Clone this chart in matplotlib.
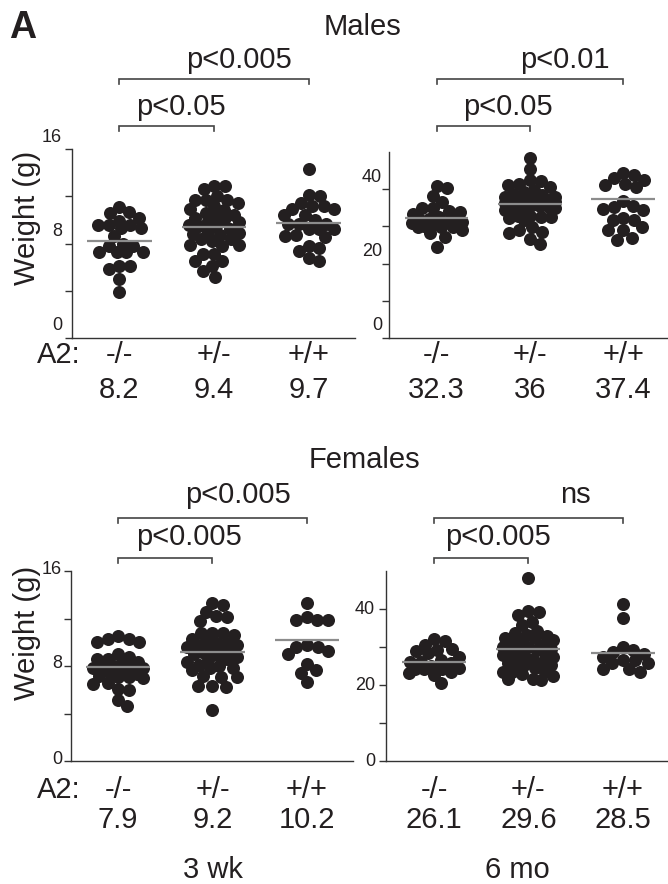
import numpy as np
import matplotlib
matplotlib.use("Agg")
import matplotlib.pyplot as plt
from matplotlib.transforms import blended_transform_factory, ScaledTranslation

plt.rcParams['font.family'] = ['Liberation Sans', 'DejaVu Sans']

# ---------------- data ----------------
genotypes = ["-/-", "+/-", "+/+"]

male_3wk_ko = [10.7, 11.1, 10.6, 10.2, 9.6, 9.6, 9.3, 9.3, 9.6, 9.9, 8.6, 8.0, 7.8, 7.8,
               7.3, 7.3, 7.3, 7.3, 6.1, 5.8, 6.1, 5.0, 3.9]
male_3wk_het = [12.9, 12.9, 12.6, 11.7, 11.7, 12.0, 11.7, 11.2, 10.9, 10.4, 10.3, 10.6, 10.2,
                9.9, 10.0, 9.5, 9.5, 8.7, 8.9, 9.0, 8.8, 8.4, 8.4, 7.9, 7.8, 7.9, 7.1, 7.1,
                6.5, 6.5, 6.1, 5.7, 5.2, 9.8, 9.2, 10.8, 8.2, 9.6, 11.4]
male_3wk_wt = [14.3, 12.0, 12.1, 11.15, 11.4, 11.15, 10.9, 10.9, 10.4, 10.4, 9.65, 9.65, 10.0,
               9.65, 9.2, 9.2, 9.2, 8.55, 8.6, 8.75, 7.4, 7.8, 7.6, 6.5, 6.8]

male_6mo_ko = [40.2, 40.9, 38.1, 34.9, 34.9, 33.8, 34.2, 33.2, 31.1, 30.8, 32.0, 32.5, 31.8,
               32.0, 30.8, 29.8, 30.2, 30.7, 29.8, 29.8, 28.2, 28.9, 27.1, 24.5, 36.5]
male_6mo_het = [48.5, 45.5, 42.1, 42.4, 41.2, 39.3, 38.7, 37.0, 36.5, 37.3, 36.5, 35.6, 35.3,
                35.0, 35.7, 35.1, 35.3, 32.5, 32.3, 32.8, 32.5, 31.8, 32.7, 29.8, 28.5, 29.1,
                28.2, 26.7, 25.4, 37.8, 38.0, 36.8, 36.2, 35.8, 37.5, 34.5, 40.5, 39.8, 38.5,
                36.9, 37.2, 41.5]
male_6mo_wt = [44.3, 43.8, 42.9, 42.4, 41.2, 40.7, 41.4, 36.9, 34.3, 35.3, 34.8, 35.6, 31.8,
               31.6, 32.3, 28.9, 29.8, 28.9, 26.4, 27.0]

female_3wk_ko = [10.24, 10.5, 10.24, 10.04, 8.27, 8.63, 8.55, 7.8, 7.9, 8.0, 7.8, 7.9, 7.09,
                 7.2, 7.35, 7.4, 7.1, 6.95, 6.1, 5.96, 6.52, 5.12, 4.6, 8.3, 7.6, 10.0, 6.6,
                 9.0, 8.8]
female_3wk_het = [13.1, 13.3, 12.57, 12.15, 12.2, 11.78, 10.74, 10.6, 10.74, 10.74, 10.3, 9.9,
                  9.8, 9.75, 9.6, 9.9, 8.07, 8.5, 8.8, 8.3, 7.99, 7.65, 7.8, 7.8, 7.09, 7.15,
                  7.09, 6.3, 6.24, 6.3, 4.33, 9.3, 9.0, 8.9, 9.5, 10.1, 8.6, 9.2, 9.4]
female_3wk_wt = [13.3, 11.9, 11.87, 12.15, 11.9, 9.6, 9.75, 9.6, 8.97, 9.3, 7.65, 8.2, 7.42, 6.66]

female_6mo_ko = [31.6, 32.0, 30.5, 28.9, 29.4, 29.2, 28.3, 26.1, 26.5, 26.1, 25.7, 24.1, 23.2,
                 24.3, 24.1, 23.5, 22.6, 20.4, 25.0, 24.6, 27.3]
female_6mo_het = [48.2, 39.4, 38.5, 39.1, 36.7, 35.8, 34.1, 33.2, 33.6, 32.3, 31.4, 32.3, 31.9,
                  31.9, 29.6, 29.2, 30.1, 29.6, 30.1, 27.4, 27.9, 27.4, 26.9, 25.7, 25.3, 26.1,
                  25.3, 25.3, 23.5, 23.5, 23.0, 23.5, 21.7, 21.7, 21.4, 28.5, 30.5, 28.0, 29.0,
                  24.5, 22.5, 32.8]
female_6mo_wt = [41.3, 37.6, 29.2, 29.9, 28.8, 27.4, 28.1, 26.5, 26.5, 24.3, 25.7, 25.7, 23.5, 24.3]

male_3wk_means = [8.2, 9.4, 9.7]
male_6mo_means = [32.3, 36.0, 37.4]
female_3wk_means = [7.9, 9.2, 10.2]
female_6mo_means = [26.1, 29.6, 28.5]
male_3wk_mean_labels = ["8.2", "9.4", "9.7"]
male_6mo_mean_labels = ["32.3", "36", "37.4"]
female_3wk_mean_labels = ["7.9", "9.2", "10.2"]
female_6mo_mean_labels = ["26.1", "29.6", "28.5"]

wk3_ticks = [0, 4, 8, 12, 16]
wk3_tick_labels = ["0", "", "8", "", "16"]
mo6_ticks = [0, 10, 20, 30, 40]
mo6_tick_labels = ["0", "", "20", "", "40"]

# p-values: (inner: -/- vs +/-, outer: -/- vs +/+)
male_3wk_p = ["p<0.05", "p<0.005"]
male_6mo_p = ["p<0.05", "p<0.01"]
female_3wk_p = ["p<0.005", "p<0.005"]
female_6mo_p = ["p<0.005", "ns"]

# ---------------- layout ----------------
W, H, DPI = 668, 884, 100
fig = plt.figure(figsize=(W / DPI, H / DPI), dpi=DPI)
INK = '#231f20'
BIG = 21


def fy(py):
    return 1 - py / H


def make_ax(l, t, r, b):
    return fig.add_axes([l / W, 1 - b / H, (r - l) / W, (b - t) / H])


def swarm_x(ax, xc, vals, d, maxw):
    """Column-scatter layout: offsets so that dots overlap at most a little."""
    vals = np.asarray(vals, dtype=float)
    disp = ax.transData.transform(np.column_stack([np.full(len(vals), xc, dtype=float), vals]))
    x0 = disp[0, 0]
    ys = disp[:, 1]
    order = np.argsort(-ys, kind='stable')
    placed = []
    xs = np.empty(len(vals))
    for i in order:
        y = ys[i]
        cands = [x0]
        for px, py in placed:
            dy = abs(y - py)
            if dy < d:
                dx = np.sqrt(d * d - dy * dy)
                cands += [px + dx + 0.01, px - dx - 0.01]
        cands = [c for c in cands if abs(c - x0) <= maxw] or [x0]
        cands.sort(key=lambda c: abs(c - x0))
        chosen = None
        for c in cands:
            if all((c - px) ** 2 + (y - py) ** 2 >= d * d - 1e-6 for px, py in placed):
                chosen = c
                break
        if chosen is None:
            grid = np.linspace(x0 - maxw, x0 + maxw, 25)
            score = [min([(g - px) ** 2 + (y - py) ** 2 for px, py in placed] or [1e9]) for g in grid]
            chosen = grid[int(np.argmax(score))]
        xs[i] = chosen
        placed.append((chosen, y))
    back = ax.transData.inverted().transform(np.column_stack([xs, ys]))
    return back[:, 0]


panels = [
    dict(rect=(72, 149, 355, 338), xlim=(0.5, 3.49), top=16,
         groups=[male_3wk_ko, male_3wk_het, male_3wk_wt], means=male_3wk_means,
         mlabels=male_3wk_mean_labels, ticks=wk3_ticks, tlabels=wk3_tick_labels,
         tdx=10, tdy=12, p=male_3wk_p, pxs=(1.65, 2.26), brk_y=(126, 79), p_y=(115, 68),
         lab_y=363, mean_y=398, a2=True, ylab_y=218),
    dict(rect=(389, 152, 668, 338), xlim=(0.49, 3.48), top=50,
         groups=[male_6mo_ko, male_6mo_het, male_6mo_wt], means=male_6mo_means,
         mlabels=male_6mo_mean_labels, ticks=mo6_ticks, tlabels=mo6_tick_labels,
         tdx=7, tdy=12, p=male_6mo_p, pxs=(1.76, 2.37), brk_y=(126, 79), p_y=(115, 68),
         lab_y=363, mean_y=398, a2=False, ylab_y=None),
    dict(rect=(71, 571, 353, 761), xlim=(0.5, 3.49), top=16,
         groups=[female_3wk_ko, female_3wk_het, female_3wk_wt], means=female_3wk_means,
         mlabels=female_3wk_mean_labels, ticks=wk3_ticks, tlabels=wk3_tick_labels,
         tdx=9, tdy=2, p=female_3wk_p, pxs=(1.75, 2.27), brk_y=(558, 518), p_y=(545, 503),
         lab_y=798, mean_y=828, a2=True, ylab_y=633),
    dict(rect=(386, 571, 668, 761), xlim=(0.49, 3.48), top=50,
         groups=[female_6mo_ko, female_6mo_het, female_6mo_wt], means=female_6mo_means,
         mlabels=female_6mo_mean_labels, ticks=mo6_ticks, tlabels=mo6_tick_labels,
         tdx=11, tdy=0, p=female_6mo_p, pxs=(1.68, 2.50), brk_y=(558, 518), p_y=(545, 503),
         lab_y=798, mean_y=828, a2=False, ylab_y=None),
]

for P in panels:
    ax = make_ax(*P['rect'])
    ax.set_xlim(*P['xlim'])
    ax.set_ylim(0, P['top'])
    for s in ('top', 'right'):
        ax.spines[s].set_visible(False)
    for s in ('left', 'bottom'):
        ax.spines[s].set_color('#333333')
        ax.spines[s].set_linewidth(1.0)
    ax.set_xticks([])
    ax.set_yticks(P['ticks'])
    ax.set_yticklabels([])
    ax.tick_params(axis='y', direction='out', length=5, width=1.0, color='#333333')
    ax.patch.set_visible(False)

    off = ScaledTranslation(-P['tdx'] / DPI, P['tdy'] / DPI, fig.dpi_scale_trans)
    for v, lab in zip(P['ticks'], P['tlabels']):
        if lab:
            ax.text(0, v, lab, transform=ax.get_yaxis_transform() + off,
                    ha='right', va='center', fontsize=13, color=INK)

    xpos = np.arange(1, len(genotypes) + 1)
    for xc, vals in zip(xpos, P['groups']):
        xs = swarm_x(ax, xc, vals, 11.0, 25.0)
        ax.scatter(xs, vals, s=88, color=INK, linewidths=0, zorder=2, clip_on=False)
    ax.hlines(P['means'], xpos - 0.34, xpos + 0.34, color='#8c8c8c', lw=1.6, zorder=3)

    bt = blended_transform_factory(ax.transData, fig.transFigure)
    for xc, g, ml in zip(xpos, genotypes, P['mlabels']):
        ax.text(xc, fy(P['lab_y']), g, transform=bt, ha='center', va='baseline',
                fontsize=BIG, color=INK)
        ax.text(xc, fy(P['mean_y']), ml, transform=bt, ha='center', va='baseline',
                fontsize=BIG, color=INK)
    if P['a2']:
        fig.text(81 / W, fy(P['lab_y']), "A2:", ha='right', va='baseline',
                 fontsize=BIG, color=INK)
    if P['ylab_y'] is not None:
        fig.text(27 / W, fy(P['ylab_y']), "Weight (g)", rotation=90, ha='center',
                 va='center', fontsize=BIG, color=INK)

    tick = 5
    for (x1, x2), by, ptxt, px, pyb in zip([(1, 2), (1, 3)], P['brk_y'], P['p'],
                                            P['pxs'], P['p_y']):
        ax.plot([x1, x1, x2, x2], [fy(by + tick), fy(by), fy(by), fy(by + tick)],
                transform=bt, color='#444444', lw=1.2, clip_on=False,
                solid_joinstyle='miter')
        ax.text(px, fy(pyb), ptxt, transform=bt, ha='center', va='baseline',
                fontsize=BIG, color=INK)

fig.text(9 / W, fy(38), "A", fontsize=27, fontweight='bold', ha='left', va='baseline',
         color=INK)
fig.text(362 / W, fy(35), "Males", fontsize=BIG, ha='center', va='baseline', color=INK)
fig.text(364 / W, fy(468), "Females", fontsize=BIG, ha='center', va='baseline', color=INK)
fig.text(213 / W, fy(878), "3 wk", fontsize=BIG, ha='center', va='baseline', color=INK)
fig.text(517 / W, fy(878), "6 mo", fontsize=BIG, ha='center', va='baseline', color=INK)

fig.savefig("out.png", dpi=DPI)
